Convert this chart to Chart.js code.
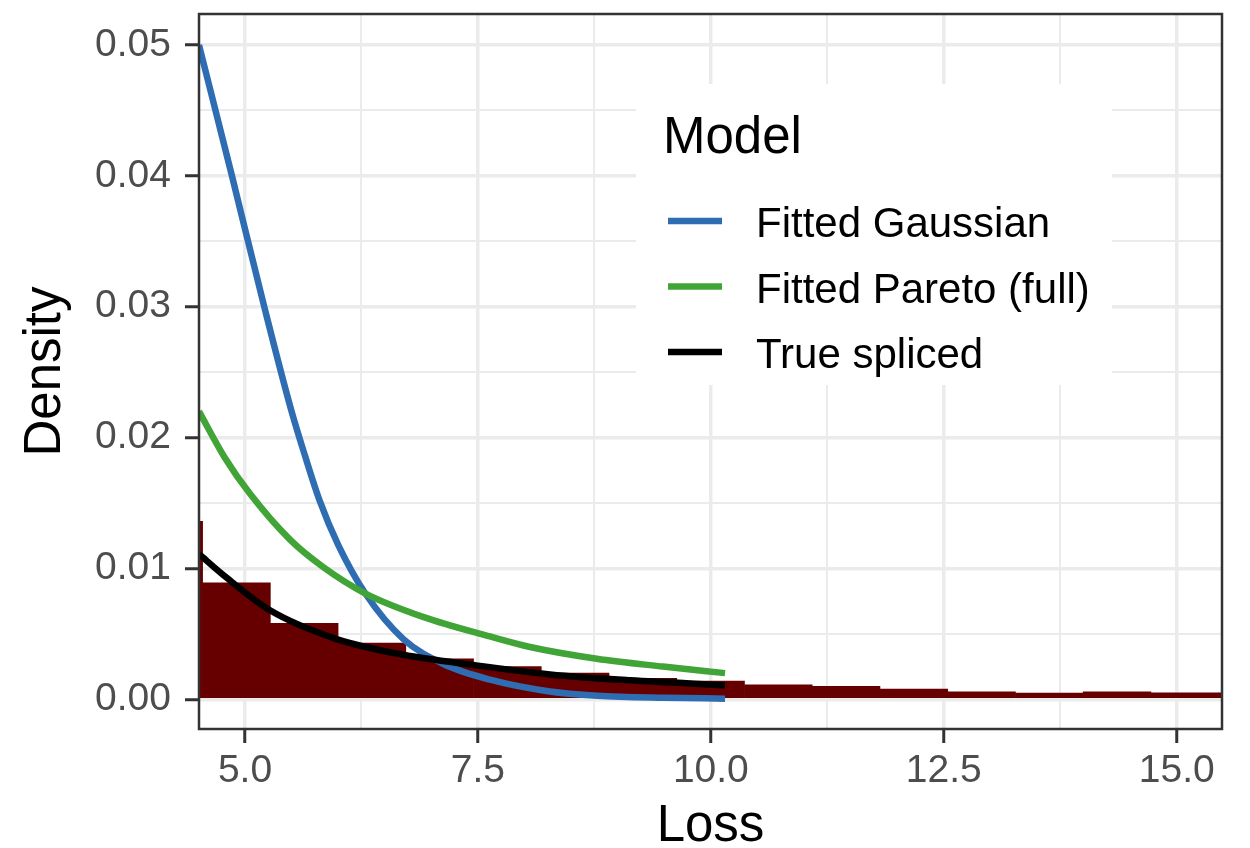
<!DOCTYPE html>
<html>
<head>
<meta charset="utf-8">
<title>Loss density</title>
<script src="https://cdn.jsdelivr.net/npm/chart.js@4.4.1/dist/chart.umd.min.js"></script>
<style>
  html, body { margin: 0; padding: 0; background: #ffffff; }
  #wrap { width: 1250px; height: 848px; }
</style>
</head>
<body>
<div id="wrap"><canvas id="chart" width="1250" height="848"></canvas></div>
<script>
// histogram: bin centres (width ~0.727) and densities
const binCenters = [4.1815, 4.9085, 5.6355, 6.3625, 7.0895, 7.8165, 8.5435, 9.2705, 9.9975,
  10.7245, 11.4515, 12.1785, 12.9055, 13.6325, 14.3595, 15.0865, 15.8135];
const binDensity = [0.0136, 0.0089, 0.0058, 0.0043, 0.0031, 0.0025, 0.0020, 0.0016, 0.0014,
  0.0011, 0.0010, 0.00078, 0.00058, 0.00048, 0.00058, 0.0005, 0.0005];

// fitted / true density curves
const gaussLoss = [4.506, 4.86, 5.21, 5.50, 5.64, 5.80, 6.00, 6.29, 6.70, 7.13, 7.63, 8.27, 8.78, 9.5, 10.152];
const gaussDens = [0.0500, 0.0400, 0.0299, 0.0220, 0.0187, 0.0152, 0.0118, 0.0081, 0.0046, 0.0027, 0.0015, 0.0006, 0.00028, 0.00012, 0.00005];

const paretoLoss = [4.506, 4.78, 5.054, 5.483, 5.84, 6.288, 6.91, 7.63, 8.059, 8.775, 9.486, 10.152];
const paretoDens = [0.0220, 0.0185, 0.0157, 0.0122, 0.0101, 0.0081, 0.0063, 0.0048, 0.0040, 0.0031, 0.0025, 0.0020];

const splicedLoss = [4.506, 4.767, 5.268, 5.984, 6.699, 7.45, 8.274, 9.132, 10.152];
const splicedDens = [0.0111, 0.0095, 0.0068, 0.0046, 0.0034, 0.00262, 0.0019, 0.00145, 0.00108];

// axis ticks (majors get labels, minors only grid lines)
const xTicks = [5, 6.25, 7.5, 8.75, 10, 11.25, 12.5, 13.75, 15];
const yTicks = [0, 0.005, 0.01, 0.015, 0.02, 0.025, 0.03, 0.035, 0.04, 0.045, 0.05];

const FONT = "'Liberation Sans', Arial, Helvetica, sans-serif";
const LINE_W = 6.5;
Chart.defaults.font.family = FONT;

const toPoints = (xs, ys) => xs.map((x, i) => ({ x: x, y: ys[i] }));
const isMajorX = (v) => Math.abs(v / 2.5 - Math.round(v / 2.5)) < 1e-6;
const isMajorY = (v) => Math.abs(v * 100 - Math.round(v * 100)) < 1e-6;

// legend drawn inside the panel, ggplot style
const insideLegend = {
  id: 'insideLegend',
  beforeDatasetsDraw(chart) {
    const ctx = chart.ctx;
    ctx.save();
    ctx.fillStyle = '#ffffff';
    ctx.fillRect(636, 84, 476, 301);

    ctx.fillStyle = '#000000';
    ctx.font = '51px ' + FONT;
    ctx.textBaseline = 'alphabetic';
    ctx.textAlign = 'left';
    ctx.fillText('Model', 663, 153);

    const items = chart.data.datasets.filter((d) => d.type === 'line');
    items.forEach((d, i) => {
      const y = 221 + i * 65.5;
      ctx.strokeStyle = d.borderColor;
      ctx.lineWidth = LINE_W;
      ctx.lineCap = 'butt';
      ctx.beginPath();
      ctx.moveTo(668, y);
      ctx.lineTo(722, y);
      ctx.stroke();
      ctx.fillStyle = '#000000';
      ctx.font = '42px ' + FONT;
      ctx.fillText(d.label, 756, y + 16);
    });
    ctx.restore();
  }
};

// dark panel border on all four sides
const panelBorder = {
  id: 'panelBorder',
  afterDatasetsDraw(chart) {
    const a = chart.chartArea;
    const ctx = chart.ctx;
    ctx.save();
    ctx.strokeStyle = '#333333';
    ctx.lineWidth = 2.5;
    ctx.strokeRect(a.left, a.top, a.right - a.left, a.bottom - a.top);
    ctx.restore();
  }
};

const lineStyle = (color, order) => ({
  type: 'line',
  borderColor: color,
  backgroundColor: color,
  borderWidth: LINE_W,
  borderCapStyle: 'butt',
  borderJoinStyle: 'round',
  pointRadius: 0,
  cubicInterpolationMode: 'monotone',
  fill: false,
  order: order
});

new Chart(document.getElementById('chart'), {
  type: 'line',
  data: {
    datasets: [
      Object.assign({ label: 'Fitted Gaussian', data: toPoints(gaussLoss, gaussDens) }, lineStyle('#2f6db3', 3)),
      Object.assign({ label: 'Fitted Pareto (full)', data: toPoints(paretoLoss, paretoDens) }, lineStyle('#40a436', 2)),
      Object.assign({ label: 'True spliced', data: toPoints(splicedLoss, splicedDens) }, lineStyle('#000000', 1)),
      {
        type: 'bar',
        label: 'Observed',
        data: toPoints(binCenters, binDensity),
        backgroundColor: '#660000',
        borderWidth: 0,
        barPercentage: 1,
        categoryPercentage: 1,
        order: 4
      }
    ]
  },
  options: {
    responsive: false,
    devicePixelRatio: 1,
    animation: false,
    layout: { padding: { left: 0, top: 14, right: 28, bottom: 0 } },
    plugins: {
      legend: { display: false },
      tooltip: { enabled: false }
    },
    scales: {
      x: {
        type: 'linear',
        min: 4.5063,
        max: 15.486,
        offset: false,
        border: { display: false },
        grid: {
          offset: false,
          color: '#ebebeb',
          lineWidth: (c) => (c.tick && isMajorX(c.tick.value) ? 3.5 : 2),
          tickLength: 14,
          tickWidth: 3,
          tickColor: (c) => (c.tick && isMajorX(c.tick.value) ? '#333333' : 'rgba(0,0,0,0)')
        },
        ticks: {
          autoSkip: false,
          maxRotation: 0,
          padding: 5,
          color: '#4d4d4d',
          font: { size: 39 },
          callback: (v) => (isMajorX(v) ? v.toFixed(1) : '')
        },
        afterBuildTicks: (scale) => { scale.ticks = xTicks.map((v) => ({ value: v })); },
        afterFit: (scale) => {
          scale.height = 119;
          scale.paddingLeft = 0;
          scale.paddingRight = 0;
        },
        title: {
          display: true,
          text: 'Loss',
          color: '#000000',
          font: { size: 51, lineHeight: 0.8 },
          padding: { top: 0, bottom: 1 }
        }
      },
      y: {
        type: 'linear',
        min: -0.00227,
        max: 0.05237,
        border: { display: false },
        grid: {
          color: '#ebebeb',
          lineWidth: (c) => (c.tick && isMajorY(c.tick.value) ? 3.5 : 2),
          tickLength: 14,
          tickWidth: 3,
          tickColor: (c) => (c.tick && isMajorY(c.tick.value) ? '#333333' : 'rgba(0,0,0,0)')
        },
        ticks: {
          autoSkip: false,
          padding: 14,
          color: '#4d4d4d',
          font: { size: 39 },
          callback: (v) => (isMajorY(v) ? v.toFixed(2) : '')
        },
        afterBuildTicks: (scale) => { scale.ticks = yTicks.map((v) => ({ value: v })); },
        afterFit: (scale) => {
          scale.width = 199;
          scale.paddingTop = 0;
          scale.paddingBottom = 0;
        },
        title: {
          display: true,
          text: 'Density',
          color: '#000000',
          font: { size: 51, lineHeight: 0.8 },
          padding: { top: 26, bottom: 0 }
        }
      }
    }
  },
  plugins: [insideLegend, panelBorder]
});
</script>
</body>
</html>
